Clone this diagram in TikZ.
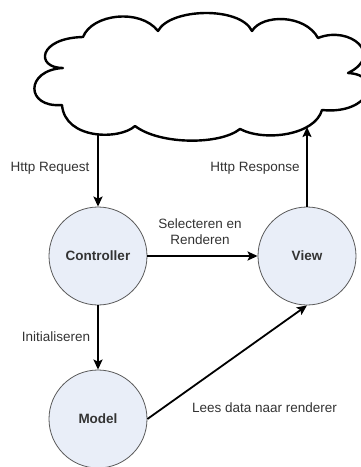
\documentclass[tikz,border=0pt]{standalone}
\usepackage{fontspec}
\setmainfont{Liberation Sans}
\usetikzlibrary{arrows.meta}
\definecolor{circfill}{HTML}{E9EEF8}
\definecolor{circline}{HTML}{5A5A5A}
\definecolor{txt}{HTML}{333333}
\tikzset{
  state/.style={circle, draw=circline, line width=0.8pt, fill=circfill, minimum size=98pt, inner sep=0pt, font=\fontsize{13.5}{15}\selectfont\bfseries, text=txt},
  lbl/.style={font=\fontsize{13.5}{16}\selectfont, text=txt, inner sep=0pt, align=center},
  conn/.style={line width=1.8pt, -{Stealth[length=10pt,width=9pt,inset=2pt]}},
  cloudline/.style={line width=2.4pt, line join=round}
}
\begin{document}
\begin{tikzpicture}[x=1pt,y=-1pt]
\useasboundingbox (0,0) rectangle (361,467);
% cloud
\draw[cloudline, fill=white] (83,37)
  .. controls (92,14) and (140,8) .. (158,31)
  .. controls (170,8) and (240,6) .. (252,31)
  .. controls (262,14) and (305,14) .. (318,38)
  .. controls (350,25) and (385,55) .. (348,73)
  .. controls (385,75) and (370,115) .. (322,110)
  .. controls (315,135) and (265,142) .. (240,129)
  .. controls (220,145) and (160,145) .. (135,126)
  .. controls (120,140) and (65,140) .. (62,105)
  .. controls (25,108) and (25,70) .. (63,68)
  .. controls (35,68) and (38,38) .. cycle;
\coordinate (req) at (98,135);
\coordinate (resp) at (307,127);
% nodes
\node[state] (ctrl) at (98,256) {Controller};
\node[state] (view) at (307,256) {View};
\node[state] (model) at (98,419) {Model};
% connectors
\draw[conn] (req) -- (ctrl.north);
\draw[conn] (view.north) -- (resp);
\draw[conn] (ctrl.east) -- (view.west);
\draw[conn] (ctrl.south) -- (model.north);
\draw[conn] (model.east) -- (view.south);
% labels
\node[lbl] (l1) at (50,168) {Http Request};
\node[lbl] (l2) at (255,168) {Http Response};
\node[lbl] (l3) at (200,232) {Selecteren en\\Renderen};
\node[lbl] (l4) at (56,337) {Initialiseren};
\node[lbl] (l5) at (264.5,408) {Lees data naar renderer};
\end{tikzpicture}
\end{document}
